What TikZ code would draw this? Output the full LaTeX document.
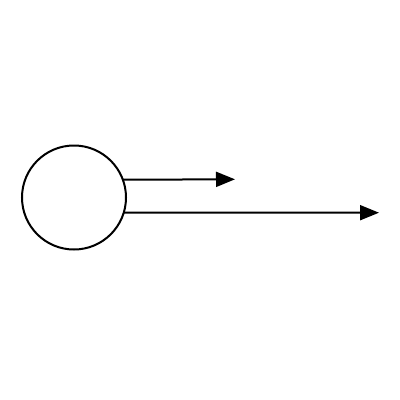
\documentclass[tikz,border=0pt]{standalone}
\usetikzlibrary{arrows.meta}
\begin{document}
\begin{tikzpicture}[x=1pt,y=-1pt,
  ball/.style={circle,draw,line width=2pt,minimum size=104pt,inner sep=0pt,outer sep=0pt},
  vec/.style={line width=2pt,-{Triangle[length=19pt,width=15pt]}}]
\useasboundingbox (0,0) rectangle (400,400);
\node[ball] (c) at (74,197.5) {};
\coordinate (e1) at (235,179.3);
\coordinate (e2) at (379,212.7);
\draw[vec] (c.20.5) -- (e1);
\draw[vec] (c.-17.2) -- (e2);
\end{tikzpicture}
\end{document}
